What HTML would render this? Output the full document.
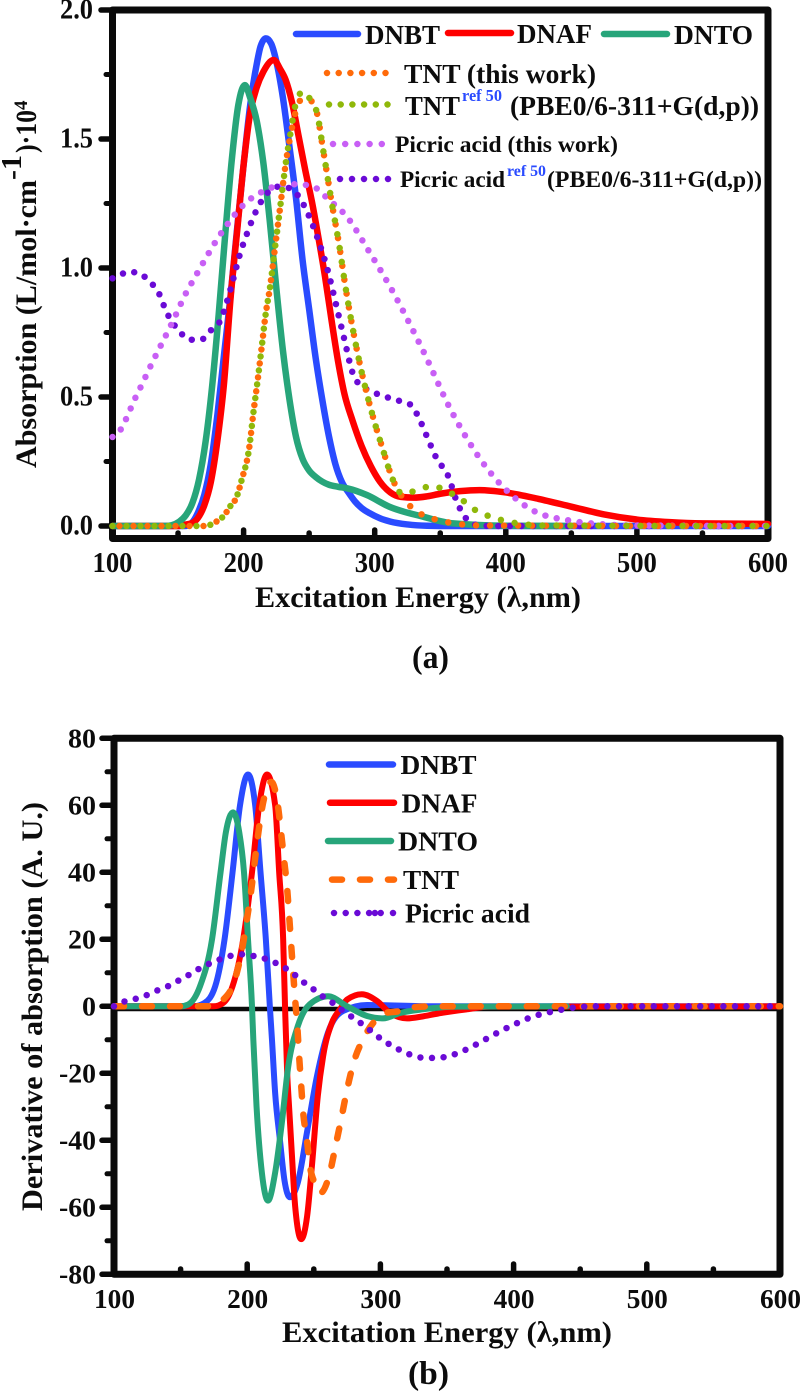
<!DOCTYPE html>
<html>
<head>
<meta charset="utf-8">
<title>Absorption spectra</title>
<style>
html,body{margin:0;padding:0;background:#fff;}
svg{display:block;}
text{font-family:"Liberation Serif",serif;font-weight:bold;fill:#0c0c0c;}
</style>
</head>
<body>
<svg id="figure" xmlns="http://www.w3.org/2000/svg" width="800" height="1391" viewBox="0 0 800 1391">
  <rect x="0" y="0" width="800" height="1391" fill="#ffffff"/>
  <g id="axesA"></g>
  <g id="curvesA"></g>
  <g id="axesB"></g>
  <g id="zeroB"></g>
  <g id="curvesB"></g>

  <g transform="translate(36,468) rotate(-90)">
    <text x="0" y="0" font-size="30" textLength="288" lengthAdjust="spacingAndGlyphs">Absorption (L/mol·cm</text>
    <text x="288" y="-15" font-size="28" textLength="25" lengthAdjust="spacingAndGlyphs">-1</text>
    <text x="315" y="0" font-size="30" textLength="43" lengthAdjust="spacingAndGlyphs">)·10</text>
    <text x="358" y="-9" font-size="19">4</text>
  </g>
  <text x="255" y="607" font-size="30" textLength="326" lengthAdjust="spacingAndGlyphs">Excitation Energy (λ,nm)</text>
  <text x="412" y="668" font-size="33" textLength="37" lengthAdjust="spacingAndGlyphs">(a)</text>

  <g>
    <line x1="296" y1="34" x2="358" y2="34" stroke="#2a4bff" stroke-width="6.5" stroke-linecap="round"/>
    <text x="365" y="44" font-size="27" textLength="75" lengthAdjust="spacingAndGlyphs">DNBT</text>
    <line x1="448" y1="33" x2="511" y2="33" stroke="#ff0000" stroke-width="6.5" stroke-linecap="round"/>
    <text x="517" y="43" font-size="27" textLength="75" lengthAdjust="spacingAndGlyphs">DNAF</text>
    <line x1="604" y1="34" x2="667" y2="34" stroke="#27a57a" stroke-width="6.5" stroke-linecap="round"/>
    <text x="674" y="44" font-size="27" textLength="79" lengthAdjust="spacingAndGlyphs">DNTO</text>
    <line x1="327" y1="73" x2="390" y2="73" stroke="#ff6a0a" stroke-width="6.5" stroke-linecap="round" stroke-dasharray="0 11.7"/>
    <text x="404" y="83" font-size="27" textLength="192" lengthAdjust="spacingAndGlyphs">TNT (this work)</text>
    <line x1="329" y1="104.5" x2="390" y2="104.5" stroke="#8fb80a" stroke-width="6.5" stroke-linecap="round" stroke-dasharray="0 11.7"/>
    <text x="405" y="115" font-size="27" textLength="55" lengthAdjust="spacingAndGlyphs">TNT</text>
    <text x="462" y="101" font-size="17" textLength="40" lengthAdjust="spacingAndGlyphs" style="fill:#2a4bff">ref 50</text>
    <text x="510" y="115" font-size="27" textLength="249" lengthAdjust="spacingAndGlyphs">(PBE0/6-311+G(d,p))</text>
    <line x1="333" y1="144" x2="384" y2="144" stroke="#c85ff5" stroke-width="6.5" stroke-linecap="round" stroke-dasharray="0 12.2"/>
    <text x="395" y="152" font-size="23" textLength="223" lengthAdjust="spacingAndGlyphs">Picric acid (this work)</text>
    <line x1="340" y1="179" x2="389" y2="179" stroke="#6a0ad6" stroke-width="6.5" stroke-linecap="round" stroke-dasharray="0 12"/>
    <text x="400" y="187" font-size="23" textLength="105" lengthAdjust="spacingAndGlyphs">Picric acid</text>
    <text x="507" y="176" font-size="16" textLength="39" lengthAdjust="spacingAndGlyphs" style="fill:#2a4bff">ref 50</text>
    <text x="547" y="187" font-size="23" textLength="215" lengthAdjust="spacingAndGlyphs">(PBE0/6-311+G(d,p))</text>
  </g>

  <g transform="translate(42,1211) rotate(-90)">
    <text x="0" y="0" font-size="30" textLength="409" lengthAdjust="spacingAndGlyphs">Derivative of absorption (A. U.)</text>
  </g>
  <text x="282" y="1342" font-size="30" textLength="330" lengthAdjust="spacingAndGlyphs">Excitation Energy (λ,nm)</text>
  <text x="408" y="1384" font-size="33" textLength="41" lengthAdjust="spacingAndGlyphs">(b)</text>

  <g>
    <line x1="329" y1="764.5" x2="393" y2="764.5" stroke="#2a4bff" stroke-width="6.5" stroke-linecap="round"/>
    <text x="400.5" y="774" font-size="27.5" textLength="76" lengthAdjust="spacingAndGlyphs">DNBT</text>
    <line x1="330" y1="802.7" x2="394" y2="802.7" stroke="#ff0000" stroke-width="6.5" stroke-linecap="round"/>
    <text x="401.5" y="812.7" font-size="27.5" textLength="76" lengthAdjust="spacingAndGlyphs">DNAF</text>
    <line x1="328" y1="841" x2="391" y2="841" stroke="#27a57a" stroke-width="6.5" stroke-linecap="round"/>
    <text x="398" y="850.7" font-size="27.5" textLength="80" lengthAdjust="spacingAndGlyphs">DNTO</text>
    <line x1="332" y1="879.6" x2="394" y2="879.6" stroke="#ff6a0a" stroke-width="6.5" stroke-linecap="round" stroke-dasharray="10 18"/>
    <text x="403" y="889" font-size="27.5" textLength="56" lengthAdjust="spacingAndGlyphs">TNT</text>
    <line x1="334" y1="913" x2="393.5" y2="913" stroke="#6a0ad6" stroke-width="6.5" stroke-linecap="round" stroke-dasharray="0 11.7 0 11.7 0 11.7 0 5.8 0 5.8 0 12.3 0 100"/>
    <text x="405" y="922.7" font-size="27" textLength="125" lengthAdjust="spacingAndGlyphs">Picric acid</text>
  </g>
</svg>
<script>
/* ---------- panel (a): absorption ---------- */
const dnbtAbsNm = [100,155,160,165,170,175,180,185,190,195,200,205,210,213,217,221,225,230,235,240,245,250,255,260,265,270,275,280,285,290,296,304,312,325,340,360,600];
const dnbtAbs = [0,0,0.01,0.05,0.12,0.24,0.43,0.66,0.89,1.15,1.40,1.63,1.79,1.86,1.89,1.87,1.80,1.66,1.47,1.27,1.03,0.84,0.65,0.49,0.35,0.24,0.17,0.13,0.095,0.07,0.05,0.03,0.017,0.006,0.001,0,0];
const dnafAbsNm = [100,150,155,160,165,170,175,180,185,190,195,200,205,210,215,223,228,232,237,242,247,252,257,262,267,272,277,283,290,297,304,312,320,330,340,350,365,380,400,425,450,475,500,525,550,600];
const dnafAbs = [0,0,0.005,0.01,0.03,0.08,0.17,0.33,0.55,0.88,1.14,1.40,1.60,1.70,1.76,1.806,1.77,1.73,1.64,1.51,1.38,1.26,1.12,0.97,0.80,0.64,0.51,0.41,0.31,0.232,0.172,0.13,0.113,0.11,0.115,0.125,0.135,0.139,0.13,0.105,0.075,0.045,0.025,0.015,0.01,0.008];
const dntoAbsNm = [100,140,145,151,156,161,166,171,176,181,186,191,196,201,205,210,215,220,225,230,235,240,245,250,255,260,265,272,279,294,311,337,360,400,445];
const dntoAbs = [0,0,0.003,0.017,0.042,0.09,0.18,0.327,0.542,0.82,1.131,1.42,1.633,1.709,1.66,1.57,1.41,1.18,0.92,0.68,0.49,0.345,0.26,0.215,0.19,0.172,0.16,0.152,0.146,0.12,0.075,0.036,0.01,0.001,0];
const tntAbsNm = [100,170,181,185,189.6,194.7,198.5,204.4,207.4,210.7,213.8,216.8,220,224,228,232,236,240,245.6,251,256,260.7,267,273.5,277,286,298,305.6,314,321,327.5,334,343.5,361,380,600];
const tntAbs = [0,0,0.023,0.04,0.075,0.113,0.178,0.307,0.436,0.564,0.693,0.82,0.92,1.08,1.24,1.40,1.52,1.61,1.66,1.65,1.6,1.457,1.26,1.07,0.95,0.693,0.436,0.307,0.178,0.113,0.075,0.05,0.03,0.01,0.002,0];
const tntRefAbsNm = [100,170,181,185,189.6,194.7,198.5,204.4,207.4,210.7,213.8,216.8,220,224,228,232,236,240,245.6,250,256,260.7,267,273.5,277,286,298,305.6,314,321,330,344,355,367,374.7,382,391,400,409,430,600];
const tntRefAbs = [0,0,0.023,0.04,0.075,0.113,0.178,0.307,0.436,0.564,0.693,0.82,0.92,1.08,1.24,1.40,1.53,1.64,1.686,1.66,1.6,1.457,1.26,1.07,0.95,0.693,0.436,0.307,0.178,0.125,0.135,0.155,0.135,0.10,0.068,0.05,0.03,0.02,0.01,0.002,0];
const picricAbsNm = [100,119,130,145.7,157,161.6,184.5,201,216,234,250.7,266,278.6,295,312,335.6,359.5,393,406,420,450,470,500,600];
const picricAbs = [0.345,0.513,0.63,0.79,0.912,0.953,1.147,1.25,1.30,1.325,1.32,1.26,1.2,1.07,0.925,0.693,0.436,0.178,0.113,0.062,0.02,0.008,0.002,0];
const picricRefAbsNm = [100,112,120.5,127.6,134.6,141.5,151,159,168,174,181.6,187.7,192,197,202.7,209,218,226,234.7,241.6,250,256.8,264.5,271,277,283.4,288,295.6,304,312,320.7,328,333,340,347,356.5,362,369.6,378,390,600];
const picricRefAbs = [0.96,0.985,0.98,0.95,0.91,0.826,0.755,0.722,0.723,0.754,0.79,0.876,0.955,1.05,1.135,1.215,1.29,1.315,1.31,1.28,1.2,1.11,0.985,0.848,0.72,0.59,0.55,0.526,0.508,0.495,0.482,0.468,0.426,0.345,0.264,0.188,0.103,0.03,0.004,0,0];

/* ---------- panel (b): derivative ---------- */
const dnbtDerNm = [100,160,168,176,183,189,194.6,200.6,206,210,214,217,218.6,221,224.6,228,232,238,244.8,252.4,260.6,272,290,340,600];
const dnbtDer = [0,0,1,6,20,40,60,69.2,60,40,20,0,-10,-26,-40,-52,-57,-52.6,-37.8,-20.8,-7.9,-1.4,0.4,0,0];
const dnafDerNm = [100,175,182,189,197,203.6,209,214.9,221,224,227,228.4,230,231.4,233.6,236,240.5,245,248.6,253,257,263.6,269.7,275,286,297.4,307,320,332,347,365,382,600];
const dnafDer = [0,0,1,6,20,40,60,69.2,60,40,20,0,-19.8,-29.7,-44.6,-59.7,-69.5,-62.6,-47.6,-26.8,-14.9,-4.9,-0.9,2,3.6,1.6,-1.9,-3.6,-3,-1.9,-0.9,-0.1,0];
const dntoDerNm = [100,150,155.5,164.6,173.6,180,184,189.3,194,197.6,200.6,203.6,204.6,207,211,215.6,221,226,230.8,238,247,260.7,275,290,302,314.7,332,357,440];
const dntoDer = [0,0,0.5,6,20,40,52,57.9,52,40,20,0,-10,-29.8,-49.6,-58,-49.6,-34.8,-18,-5.9,0.6,3,0,-2.9,-3.6,-2,-0.9,-0.1,0];
const tntDerNm = [100,172,182,190.8,197,199.8,202.8,205.9,208,211,215.8,218,223,225.4,227.6,229.9,231.4,232.9,234.6,236,237.6,239,240.5,242,244.8,247,252.4,254.7,261.4,266.6,271,275,280,287.7,297,303.6,314.7,322,340,600];
const tntDer = [0,0,2,8,19,26,34,44,50.7,58.8,66,67,60,52,44,35.6,27.5,19,9.5,2,-5.9,-15,-23.5,-31.6,-39.7,-47.6,-54,-55.8,-50.7,-41.2,-32.8,-24.8,-16.7,-9.3,-3.9,-2,-1.4,-0.4,0,0];
const picricDerNm = [100,106,114,122.5,131,139,146.6,154.6,162,170.4,178.8,187,196,205,213.5,221,229,236,243,250,257.6,264.6,272,279.4,286.9,293.7,301,308.7,317,325,334,343,351.6,360.5,368,376,385,400,415,430,445,460,600];
const picricDer = [0,1.2,2,3,4.5,5.7,7.3,9,10.8,12.5,13.9,15,15.5,15,14.2,13,11.3,9.3,7,5,2.7,0.9,-1.4,-3.4,-5.5,-7.6,-9.9,-11.8,-13.5,-14.8,-15.4,-15.4,-14.8,-13.6,-12.2,-10.5,-8.5,-5.5,-3,-1.5,-0.4,0,0];

/* ---------- tick labels ---------- */
const xTickValues = [100,200,300,400,500,600];
const xMinorValues = [150,200,250,300,350,400,450,500,550];
const yTickLabelsA = ["0.0","0.5","1.0","1.5","2.0"];
const yTickValuesA = [0,0.5,1,1.5,2];
const yMinorValuesA = [0.25,0.75,1.25,1.75];
const yTickValuesB = [-80,-60,-40,-20,0,20,40,60,80];
const yMinorValuesB = [-70,-50,-30,-10,10,30,50,70];

const NS = "http://www.w3.org/2000/svg";
const xA = nm => 112.5 + (nm - 100) * 1.311;
const yA = v => 526 - v * 258;
const xB = nm => 114 + (nm - 100) * 1.332;
const yB = v => 1006.3 - v * 3.35;

function sign(v){ return v < 0 ? -1 : 1; }
function curvePath(nms, vals, fx, fy){
  const px = nms.map(fx), py = vals.map(fy), n = px.length;
  const m = new Array(n).fill(0);
  for (let i = 1; i < n - 1; i++){
    const h0 = px[i] - px[i-1], h1 = px[i+1] - px[i];
    const s0 = (py[i] - py[i-1]) / h0, s1 = (py[i+1] - py[i]) / h1;
    const p = (s0 * h1 + s1 * h0) / (h0 + h1);
    m[i] = (sign(s0) + sign(s1)) * Math.min(Math.abs(s0), Math.abs(s1), 0.5 * Math.abs(p));
    if (s0 === 0 || s1 === 0) m[i] = 0;
  }
  let d = "M" + px[0].toFixed(2) + "," + py[0].toFixed(2);
  for (let i = 0; i < n - 1; i++){
    const dx = (px[i+1] - px[i]) / 3;
    d += "C" + (px[i] + dx).toFixed(2) + "," + (py[i] + m[i] * dx).toFixed(2) + " "
      + (px[i+1] - dx).toFixed(2) + "," + (py[i+1] - m[i+1] * dx).toFixed(2) + " "
      + px[i+1].toFixed(2) + "," + py[i+1].toFixed(2);
  }
  return d;
}
function addCurve(parent, name, nms, vals, fx, fy, color, width, dash, offset){
  const el = document.createElementNS(NS, "path");
  
  
  el.setAttribute("d", curvePath(nms, vals, fx, fy));
  el.setAttribute("fill", "none");
  el.setAttribute("stroke", color);
  el.setAttribute("stroke-width", width);
  el.setAttribute("stroke-linecap", "round");
  el.setAttribute("stroke-linejoin", "round");
  if (dash) el.setAttribute("stroke-dasharray", dash);
  if (offset) el.setAttribute("stroke-dashoffset", offset);
  parent.appendChild(el);
}
function addLine(parent, name, x1, y1, x2, y2, width){
  const el = document.createElementNS(NS, "line");
  
  
  el.setAttribute("x1", x1);
  el.setAttribute("y1", y1);
  el.setAttribute("x2", x2);
  el.setAttribute("y2", y2);
  el.setAttribute("stroke", "#0a0a0a");
  el.setAttribute("stroke-width", width);
  el.setAttribute("stroke-linecap", "round");
  parent.appendChild(el);
}
function addLabel(parent, name, str, x, y, size, len, anchor){
  const el = document.createElementNS(NS, "text");
  
  
  el.setAttribute("x", x);
  el.setAttribute("y", y);
  el.setAttribute("font-size", size);
  el.setAttribute("text-anchor", anchor);
  el.setAttribute("textLength", len);
  el.setAttribute("lengthAdjust", "spacingAndGlyphs");
  el.textContent = str;
  parent.appendChild(el);
}
function addFrame(parent, name, x1, y1, x2, y2){
  const el = document.createElementNS(NS, "rect");
  
  
  el.setAttribute("x", x1);
  el.setAttribute("y", y1);
  el.setAttribute("width", x2 - x1);
  el.setAttribute("height", y2 - y1);
  el.setAttribute("fill", "none");
  el.setAttribute("stroke", "#0a0a0a");
  el.setAttribute("stroke-width", 7);
  el.setAttribute("stroke-linejoin", "round");
  parent.appendChild(el);
}

const DOT = "0 11.6";
const TNT_DOT = "0 14";
const cA = document.getElementById("curvesA");
addCurve(cA, "curve-dnbt", dnbtAbsNm, dnbtAbs, xA, yA, "#2a4bff", 6.5);
addCurve(cA, "curve-dnaf", dnafAbsNm, dnafAbs, xA, yA, "#ff0000", 6.5);
addCurve(cA, "curve-dnto", dntoAbsNm, dntoAbs, xA, yA, "#27a57a", 6.5);
addCurve(cA, "curve-picric-ref", picricRefAbsNm, picricRefAbs, xA, yA, "#6a0ad6", 6.5, DOT);
addCurve(cA, "curve-picric", picricAbsNm, picricAbs, xA, yA, "#c85ff5", 6.5, DOT);
addCurve(cA, "curve-tnt", tntAbsNm, tntAbs, xA, yA, "#ff6a0a", 6.5, TNT_DOT, 7);
addCurve(cA, "curve-tnt-ref", tntRefAbsNm, tntRefAbs, xA, yA, "#8fb80a", 6.5, TNT_DOT);

const zB = document.getElementById("zeroB");
addLine(zB, "zero-line", 114, 1009, 780, 1009, 4.5);

const cB = document.getElementById("curvesB");
addCurve(cB, "curve-b-dnbt", dnbtDerNm, dnbtDer, xB, yB, "#2a4bff", 6);
addCurve(cB, "curve-b-dnaf", dnafDerNm, dnafDer, xB, yB, "#ff0000", 6);
addCurve(cB, "curve-b-dnto", dntoDerNm, dntoDer, xB, yB, "#27a57a", 6);
addCurve(cB, "curve-b-tnt", tntDerNm, tntDer, xB, yB, "#ff6a0a", 6.5, "10 18");
addCurve(cB, "curve-b-picric", picricDerNm, picricDer, xB, yB, "#6a0ad6", 6.5, DOT);

/* axes (a) */
const aA = document.getElementById("axesA");
addFrame(aA, "panel-a-frame", xA(100), yA(2), xA(600), 538.5);
yTickValuesA.forEach((v, i) => {
  addLine(aA, "y-tick-a", 101, yA(v), xA(100), yA(v), 5.5);
  addLabel(aA, "y-tick-label-a", yTickLabelsA[i], 60, yA(v) + 8.5, 28, 33, "start");
});
yMinorValuesA.forEach(v => addLine(aA, "y-minor-tick-a", 106, yA(v), xA(100), yA(v), 5));
xMinorValues.forEach(v => {
  const top = v % 100 === 0 ? 530 : 533;
  addLine(aA, "x-tick-a", xA(v), 538.5, xA(v), top, 5.5);
});
xTickValues.forEach(v => addLabel(aA, "x-tick-label-a", String(v), xA(v) - 20, 572, 28, 40, "start"));

/* axes (b) */
const aB = document.getElementById("axesB");
addFrame(aB, "panel-b-frame", xB(100), yB(80), xB(600), yB(-80));
yTickValuesB.forEach(v => {
  addLine(aB, "y-tick-b", 102, yB(v), xB(100), yB(v), 5.5);
  const s = String(v);
  const w = s.length === 1 ? 14 : (s.length === 2 ? 28 : 37);
  addLabel(aB, "y-tick-label-b", s, 96 - w, yB(v) + 9, 27, w, "start");
});
yMinorValuesB.forEach(v => addLine(aB, "y-minor-tick-b", 107, yB(v), xB(100), yB(v), 5));
xMinorValues.forEach(v => {
  const top = v % 100 === 0 ? 1264 : 1269;
  addLine(aB, "x-tick-b", xB(v), yB(-80), xB(v), top, 5.5);
});
xTickValues.forEach(v => addLabel(aB, "x-tick-label-b", String(v), xB(v) - 20, 1308, 27, 41, "start"));
</script>
</body>
</html>
